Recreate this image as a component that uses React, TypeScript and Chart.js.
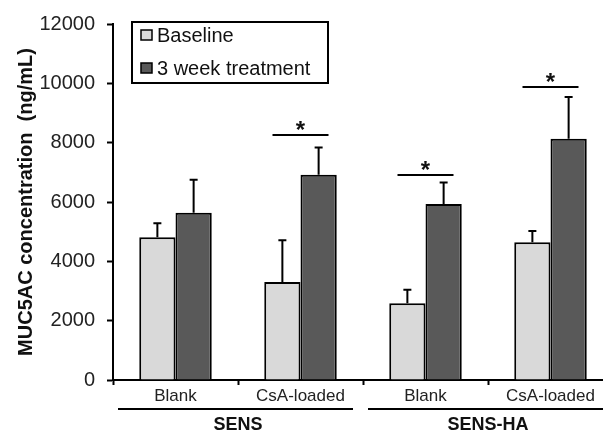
import React, { useEffect, useRef } from "react";
import { Chart, registerables } from "chart.js";

Chart.register(...registerables);

const categories = ["Blank", "CsA-loaded", "Blank", "CsA-loaded"];
const seriesNames = ["Baseline", "3 week treatment"];
const baselineValues = [4810, 3300, 2590, 4640];
const treatmentValues = [5640, 6920, 5930, 8130];
const baselineErrors = [470, 1410, 450, 380];
const treatmentErrors = [1110, 920, 730, 1410];
const significanceLevels: (number | null)[] = [null, 8250, 6920, 9890];
const groupNames = ["SENS", "SENS-HA"];
const groupSpans: [number, number][] = [[0, 1], [2, 3]];
const yTicks = [0, 2000, 4000, 6000, 8000, 10000, 12000];

const FONT = "'Liberation Sans', Arial, sans-serif";
const LIGHT = "#d9d9d9";
const DARK = "#595959";

const overlayPlugin = {
  id: "overlay",
  afterDatasetsDraw(chart: any) {
    const ctx = chart.ctx;
    const x = chart.scales.x;
    const y = chart.scales.y;
    const errs = [baselineErrors, treatmentErrors];
    const vals = [baselineValues, treatmentValues];
    ctx.save();
    ctx.strokeStyle = "#000";
    ctx.lineWidth = 2;
    // error bars (upper whisker only)
    for (let d = 0; d < 2; d++) {
      const meta = chart.getDatasetMeta(d);
      meta.data.forEach((bar: any, i: number) => {
        const top = y.getPixelForValue(vals[d][i] + errs[d][i]);
        ctx.beginPath();
        ctx.moveTo(bar.x, bar.y);
        ctx.lineTo(bar.x, top);
        ctx.moveTo(bar.x - 4, top);
        ctx.lineTo(bar.x + 4, top);
        ctx.stroke();
      });
    }
    // significance markers
    ctx.fillStyle = "#111";
    ctx.font = `bold 24px ${FONT}`;
    ctx.textAlign = "center";
    ctx.textBaseline = "alphabetic";
    significanceLevels.forEach((lvl, i) => {
      if (lvl == null) return;
      const cx = x.getPixelForValue(i);
      const py = Math.round(y.getPixelForValue(lvl));
      ctx.beginPath();
      ctx.moveTo(cx - 28, py);
      ctx.lineTo(cx + 28, py);
      ctx.stroke();
      ctx.fillText("*", cx, py + 3);
    });
    ctx.restore();
  },
  afterDraw(chart: any) {
    const ctx = chart.ctx;
    const x = chart.scales.x;
    const area = chart.chartArea;
    const halfCat = (x.right - x.left) / categories.length / 2;
    ctx.save();
    // group lines and labels
    ctx.strokeStyle = "#000";
    ctx.lineWidth = 2;
    ctx.fillStyle = "#111";
    ctx.font = `bold 18px ${FONT}`;
    ctx.textAlign = "center";
    ctx.textBaseline = "middle";
    groupSpans.forEach((span, g) => {
      const l = x.getPixelForValue(span[0]) - halfCat;
      const r = x.getPixelForValue(span[1]) + halfCat;
      const ly = area.bottom + 29;
      ctx.beginPath();
      ctx.moveTo(l + 5, ly);
      ctx.lineTo(r - 10, ly);
      ctx.stroke();
      ctx.fillText(groupNames[g], (l + r) / 2, area.bottom + 45);
    });
    // legend box
    const bx = area.left + 19;
    const by = area.top - 2;
    const bw = 196;
    const bh = 61;
    ctx.fillStyle = "#fff";
    ctx.fillRect(bx, by, bw, bh);
    ctx.strokeRect(bx, by, bw, bh);
    const colors = [LIGHT, DARK];
    ctx.font = `20px ${FONT}`;
    ctx.textAlign = "left";
    ctx.textBaseline = "middle";
    seriesNames.forEach((name, i) => {
      const cy = by + 13 + i * 33;
      ctx.fillStyle = colors[i];
      ctx.fillRect(bx + 9, cy - 5, 11, 10);
      ctx.lineWidth = 1.5;
      ctx.strokeRect(bx + 9, cy - 5, 11, 10);
      ctx.fillStyle = "#111";
      ctx.fillText(name, bx + 25, cy + 1);
    });
    ctx.restore();
  },
};

export default function App() {
  const ref = useRef<HTMLCanvasElement | null>(null);
  useEffect(() => {
    if (!ref.current) return;
    const chart = new Chart(ref.current, {
      type: "bar",
      data: {
        labels: categories,
        datasets: [
          {
            label: seriesNames[0],
            data: baselineValues,
            backgroundColor: LIGHT,
            borderColor: "#000",
            borderWidth: 2,
            borderSkipped: "start",
          },
          {
            label: seriesNames[1],
            data: treatmentValues,
            backgroundColor: DARK,
            borderColor: "#000",
            borderWidth: 2,
            borderSkipped: "start",
          },
        ],
      },
      options: {
        responsive: false,
        animation: false,
        devicePixelRatio: 1,
        layout: { padding: { top: 20, right: 7, left: 0, bottom: 0 } },
        plugins: { legend: { display: false }, tooltip: { enabled: false } },
        datasets: { bar: { categoryPercentage: 0.58, barPercentage: 1 } },
        scales: {
          x: {
            offset: true,
            grid: {
              display: true,
              drawOnChartArea: false,
              offset: true,
              tickLength: 5,
              tickWidth: 2,
              tickColor: "#000",
            },
            border: { display: true, color: "#000", width: 2 },
            ticks: { color: "#222", font: { family: FONT, size: 17 }, padding: 1, maxRotation: 0 },
            afterFit: (s: any) => {
              s.height = 55;
            },
          },
          y: {
            min: 0,
            max: 12000,
            afterBuildTicks: (s: any) => {
              s.ticks = yTicks.map((v) => ({ value: v }));
            },
            grid: {
              display: true,
              drawOnChartArea: false,
              tickLength: 6,
              tickWidth: 2,
              tickColor: "#000",
            },
            border: { display: true, color: "#000", width: 2 },
            ticks: {
              color: "#222",
              font: { family: FONT, size: 20 },
              padding: 12,
              callback: (v: any) => String(v),
            },
            title: {
              display: true,
              text: "MUC5AC concentration  (ng/mL)",
              color: "#111",
              font: { family: FONT, size: 20, weight: "bold" },
              padding: { top: 14, bottom: 0 },
            },
            afterFit: (s: any) => {
              s.width = 113;
            },
          },
        },
      },
      plugins: [overlayPlugin],
    });
    return () => chart.destroy();
  }, []);
  return (
    <div
      style={{
        position: "fixed",
        left: 0,
        top: 0,
        width: 603,
        height: 435,
        overflow: "hidden",
        background: "#fff",
      }}
    >
      <canvas ref={ref} width={620} height={435} style={{ width: 620, height: 435, display: "block" }} />
    </div>
  );
}
